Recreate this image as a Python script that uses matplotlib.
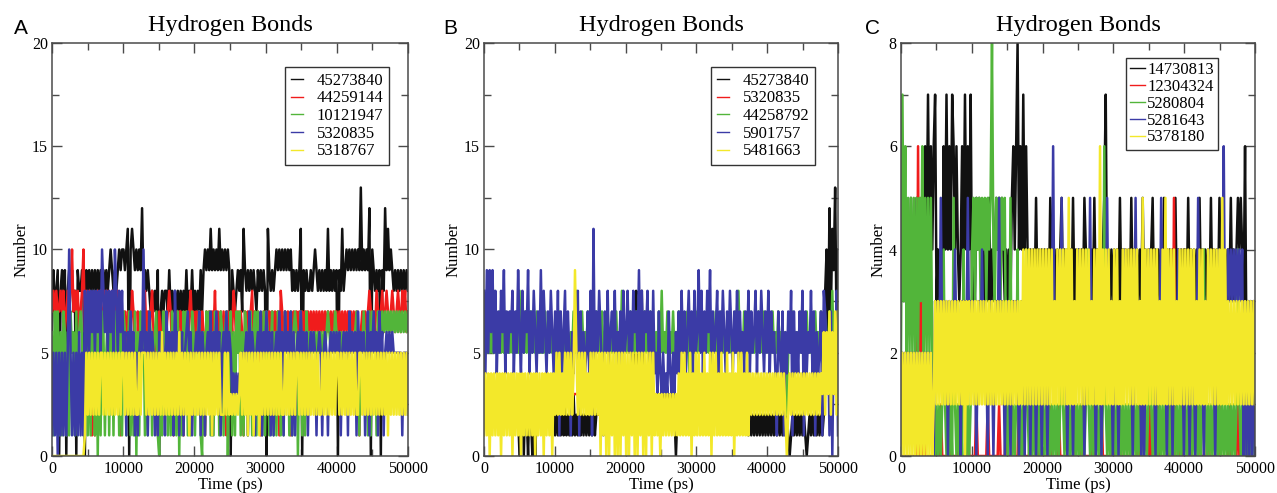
import numpy as np
import matplotlib
matplotlib.use("Agg")
import matplotlib.pyplot as plt
from matplotlib.ticker import MultipleLocator

# ---------------------------------------------------------------
# Data: hydrogen-bond counts per sampled frame, read off the figure.
# Each character is one frame, hex-coded (a=10, b=11, c=12, d=13).
# Frames are spread evenly over 0..50000 ps (about 200 ps apart).
# ---------------------------------------------------------------
T_END = 50000

A_LABELS = ["45273840", "44259144", "10121947", "5320835", "5318767"]
A_BLACK = ("6978908989 0898978098 8980989898 9898989898 9a98989a9a"
           "a9ab0aba9a 9a9c898987 8787907878 8797878787 8787978797"
           "8787979a9a 9b9a9a9b9a 9a9a909878 9897b98989 8987989898"
           "0b98989a9a 9a9a9a9a89 8989b09898 8989a98989 898b898989"
           "098b89a9a9 a9a9a9d9a9 a9c0a98989 098c9b9a98 9898989898")
A_RED = ("7878778786 7878a78786 78a6878716 1787867878 6787868717"
         "6757568751 7565786757 8656176575 6787516757 7516757867"
         "5767576175 7576857575 7517576875 7576175767 8575761676"
         "7576757671 8757576157 6757675767 6767676767 6767676767"
         "6767676767 6767616767 6787676876 7867876787 6787687867")
A_GREEN = ("6175716176 1617561716 7615716175 1706176157 1671756171"
           "7615716170 6175716176 1567106175 7161756170 6175716176"
           "1567106175 7161756176 1670571617 5716176157 1671756171"
           "7615716176 1617561716 7605716175 6565656565 6567656576"
           "6565656565 6567616575 6171756176 6767676767 6767676767")
A_BLUE = ("1515051515 15a5151516 151 8585868 58685a8685 8685a85868"
          "5616575615 1565a56175 6515165651 7565618561 5615675615"
          "5657165156 5716575615 6575653434 3435356175 6515657165"
          "7561615657 5617565716 1565756561 5656515651 5651565656"
          "5615656175 6561756561 5716575617 5615656565 5555515552")
A_YELLOW = ("0000000000 0000000000 000 1525252 5252552525 2525252525"
            "5252525252 2525552525 2525252625 2525252526 2525251525"
            "2525252525 2515252522 2525232323 2352525152 5152515252"
            "5252525252 5225252525 2552525252 5252525225 2525252525"
            "5252525252 5252255252 5252525252 5252515252 5252525252")

B_LABELS = ["45273840", "5320835", "44258792", "5901757", "5481663"]
B_BLACK = ("2323232323 2323232323 2323202303 2032030232 3232323232"
           "1212121312 1213121312 1212121312 2323232323 2323232323"
           "2323237828 7823232323 2323232323 2323202323 2323232323"
           "2323232323 2323232323 2323232323 2323231212 1212121212"
           "1212121212 1212101212 1212121012 1212121212 8a5c7b9d6a")
B_RED = ("3232323232 2323232323 3232323232 2323232323 3232323232"
         "3333333333 3333333333 3333333333 3232323232 2323232323"
         "3232323232 2323232323 2222222222 2222222222 3232323232"
         "2323232323 3232323232 2323232323 3232333333 3333333333"
         "3333333333 3333333333 3333333333 3333333333 3434343434")
B_GREEN = ("5657565856 5756575657 5657585657 5657565756 5657565756"
           "5657565756 5657585657 5657525657 5657565756 5657565856"
           "5657565756 5657565756 5657585657 5657565756 5657535657"
           "5657565756 5657565756 5657565758 5657565756 5657565756"
           "5657565756 5652565756 5657565756 5657565756 5657585656")
B_BLUE = ("8495969584 7586947576 8475964857 6947586475 9586475864"
          "7481746837 5164758174 6457481b47 5864175846 7584657485"
          "6857486759 4857684738 4537435343 7435364738 5746857485"
          "6958475869 4756847586 4758647584 7564758475 6847586475"
          "8475641754 7164758174 6475817465 8471645718 7561706481")
B_YELLOW = ("1414041414 1404141414 0414140414 1414140414 1404141404"
            "2525242525 2524952525 2524252525 2505150505 1505050515"
            "0505150505 1505051505 1313031313 1313131415 1514150415"
            "1514151415 0515141514 1514150415 1514151424 2424242424"
            "2424242424 2420242424 2424242424 2424242436 2637263727")

C_LABELS = ["14730813", "12304324", "5280804", "5281643", "5378180"]
C_BLACK = ("34353435343534353 64746467 34343 64746476464 34 6474647"
           "343 5454 3434353434 545454 343435 64684647464 3434353434"
           "3434354343 4345343434 3534343435 4343435343 4345734343"
           "4343534343 4353434343 5343434534 3434353434 3435343434"
           "4353434343 5343434353 4343534343 4353434545 4362323232")
C_RED = ("0000000000 0060501000 0000000010 0000100000 0100000100"
         "0001000000 0100000001 0000100000 0001000000 0100000010"
         "0000010000 0100000000 0010000100 0000010000 0100000001"
         "0000100000 0010000100 0000010000 0100000001 0050000100"
         "0001000000 1000001000 0000100000 0100000100 0000010000")
C_GREEN = ("2736252525 2525362525 252 1010 1014101010 5101010410 101"
           "4535453545 3545843545 3545101501 0140101041 0101010101"
           "1010101010 1014101010 1010101010 1410101010 1016101010"
           "1010101010 1010101010 1010141010 1010101010 1010101010"
           "1010101010 1014101010 1010101010 1010101410 1010101010")
C_BLUE = ("1212121212 1212121212 121 0323252 3230323242 3203232523"
          "2320232423 2023202325 2320232023 2320232023 2023202320"
          "2320232623 2325232023 2023242320 2325232023 2023252320"
          "2320232423 2320252320 2023242320 2325232023 2023242320"
          "2320232025 2320232423 2024323623 4343434343 4030303030")
C_YELLOW = ("0202020202 0202020202 020 1313131 3131313131 3131303131"
            "3131313131 3131313131 3131313131 3131314141 4141414141"
            "4141414131 4141414151 4131414141 4141314141 6141414131"
            "4141314141 4141414131 5141414141 4131415141 4141314141"
            "4141414131 4141314141 4141415141 3131313131 3131313131")

COLORS = ["#111111", "#f01c1c", "#52b53a", "#3b3ba6", "#f3e82a"]


def decode(s):
    return np.array([int(c, 16) for c in s if c != " "], dtype=float)


plt.rcParams["font.family"] = ["Liberation Serif", "DejaVu Serif"]

W, H = 1277, 493
fig = plt.figure(figsize=(W / 100, H / 100), dpi=100)

panels = [
    dict(letter="A", l=52, r=408, series=[A_BLACK, A_RED, A_GREEN, A_BLUE, A_YELLOW],
         labels=A_LABELS, ymax=20, ymaj=5, ymin=2.5, leg=(0.947, 0.942), lx=21,
         hl=0.75, htp=0.8, bp=0.35, ls=0.1),
    dict(letter="B", l=484, r=838, series=[B_BLACK, B_RED, B_GREEN, B_BLUE, B_YELLOW],
         labels=B_LABELS, ymax=20, ymaj=5, ymin=2.5, leg=(0.935, 0.942), lx=450,
         hl=0.75, htp=0.8, bp=0.35, ls=0.1),
    dict(letter="C", l=901, r=1255, series=[C_BLACK, C_RED, C_GREEN, C_BLUE, C_YELLOW],
         labels=C_LABELS, ymax=8, ymaj=2, ymin=1, leg=(0.895, 0.964), lx=872,
         hl=0.85, htp=0.15, bp=0.25, ls=0.05),
]

top_px, bot_px = 43, 456
spine_col = "#4a4a4a"

for p in panels:
    ax = fig.add_axes([p["l"] / W, 1 - bot_px / H, (p["r"] - p["l"]) / W,
                       (bot_px - top_px) / H])
    for s, col, lab in zip(p["series"], COLORS, p["labels"]):
        y = decode(s)
        t = np.linspace(0, T_END, len(y))
        ax.plot(t, y, color=col, lw=1.8, label=lab)
    ax.set_xlim(0, T_END)
    ax.set_ylim(0, p["ymax"])
    ax.xaxis.set_major_locator(MultipleLocator(10000))
    ax.xaxis.set_minor_locator(MultipleLocator(5000))
    ax.yaxis.set_major_locator(MultipleLocator(p["ymaj"]))
    ax.yaxis.set_minor_locator(MultipleLocator(p["ymin"]))
    ax.tick_params(which="both", direction="in", top=True, right=True,
                   color=spine_col, width=1.0)
    ax.tick_params(which="major", length=7.5, labelsize=11.5)
    ax.tick_params(which="minor", length=5)
    ax.tick_params(axis="x", pad=3.5)
    ax.tick_params(axis="y", pad=3)
    for sp in ax.spines.values():
        sp.set_color(spine_col)
        sp.set_linewidth(1.1)
        sp.set_zorder(3)
    ax.set_xlabel("Time (ps)", fontsize=12, labelpad=0)
    ax.set_ylabel("Number", fontsize=12, labelpad=2)
    ax.set_title("Hydrogen Bonds", fontsize=17.5, pad=9)
    leg = ax.legend(loc="upper right", bbox_to_anchor=p["leg"], borderaxespad=0,
                    fontsize=12, frameon=True, fancybox=False, framealpha=1,
                    handlelength=p["hl"], handletextpad=p["htp"],
                    labelspacing=p["ls"], borderpad=p["bp"])
    for h in leg.get_lines():
        h.set_linewidth(1.0)
    leg.get_frame().set_edgecolor("#333333")
    leg.get_frame().set_linewidth(1.0)
    fig.text(p["lx"] / W, 1 - 28 / H, p["letter"], fontsize=15,
             family=["Liberation Sans", "DejaVu Sans"], ha="center", va="center")

fig.savefig("out.png", dpi=100)
